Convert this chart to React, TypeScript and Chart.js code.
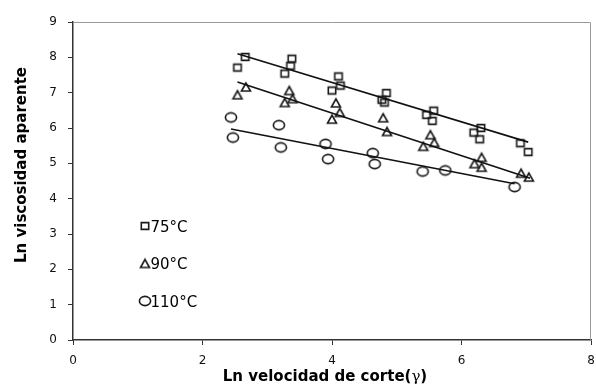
import React, { useEffect, useRef } from "react";
import { Chart, registerables } from "chart.js";

Chart.register(...registerables);

// ---- Data ----
const xTickValues = [0, 2, 4, 6, 8];
const yTickValues = [0, 1, 2, 3, 4, 5, 6, 7, 8, 9];
const xTitleMain = "Ln velocidad de corte(";
const xTitleSymbol = "γ";
const xTitleEnd = ")";
const yTitle = "Ln viscosidad aparente";
const seriesLabels = ["75°C", "90°C", "110°C"];

const x75 = [2.66, 2.54, 3.38, 3.36, 3.27, 4.10, 4.13, 4.00, 4.84, 4.77, 4.81, 5.57, 5.46, 5.55, 6.30, 6.19, 6.28, 6.91, 7.03];
const y75 = [8.01, 7.71, 7.96, 7.76, 7.54, 7.46, 7.20, 7.06, 6.99, 6.80, 6.72, 6.49, 6.37, 6.20, 6.00, 5.87, 5.68, 5.57, 5.32];

const x90 = [2.67, 2.54, 3.34, 3.39, 3.27, 4.06, 4.12, 4.00, 4.79, 4.85, 5.52, 5.58, 5.41, 6.31, 6.20, 6.31, 6.92, 7.04];
const y90 = [7.16, 6.94, 7.06, 6.83, 6.72, 6.71, 6.44, 6.25, 6.29, 5.90, 5.81, 5.59, 5.48, 5.17, 4.99, 4.89, 4.72, 4.61];

const x110 = [2.44, 2.47, 3.18, 3.21, 3.90, 3.94, 4.63, 4.66, 5.40, 5.75, 6.82];
const y110 = [6.30, 5.73, 6.08, 5.45, 5.55, 5.12, 5.29, 4.98, 4.77, 4.80, 4.33];

// trend line end points
const trend75X = [2.54, 7.03];
const trend75Y = [8.10, 5.60];
const trend90X = [2.54, 7.06];
const trend90Y = [7.30, 4.58];
const trend110X = [2.44, 6.82];
const trend110Y = [5.97, 4.42];

const toPoints = (xs: number[], ys: number[]) => xs.map((x, i) => ({ x, y: ys[i] }));

function makeMarker(kind: "square" | "triangle" | "circle"): HTMLCanvasElement {
  const c = document.createElement("canvas");
  c.width = 16;
  c.height = 16;
  const g = c.getContext("2d")!;
  g.strokeStyle = "#1a1a1a";
  g.lineWidth = 1.6;
  g.lineJoin = "miter";
  g.beginPath();
  if (kind === "square") {
    g.rect(8 - 3.7, 8 - 3.4, 7.4, 6.8);
  } else if (kind === "triangle") {
    g.moveTo(8, 4);
    g.lineTo(12.5, 12);
    g.lineTo(3.5, 12);
    g.closePath();
  } else {
    g.ellipse(8, 8, 5.6, 4.6, 0, 0, Math.PI * 2);
  }
  g.stroke();
  return c;
}

export default function App() {
  const ref = useRef<HTMLCanvasElement | null>(null);

  useEffect(() => {
    if (!ref.current) return;
    const mSquare = makeMarker("square");
    const mTri = makeMarker("triangle");
    const mCirc = makeMarker("circle");
    const markers = [mSquare, mTri, mCirc];

    const decor = {
      id: "decor",
      beforeDatasetsDraw(chart: any) {
        const { ctx, chartArea: a } = chart;
        ctx.save();
        ctx.strokeStyle = "#9a9a9a";
        ctx.lineWidth = 1;
        ctx.beginPath();
        ctx.moveTo(a.left, a.top + 0.5);
        ctx.lineTo(a.right - 0.5, a.top + 0.5);
        ctx.lineTo(a.right - 0.5, a.bottom);
        ctx.stroke();
        ctx.restore();
      },
      afterDraw(chart: any) {
        const { ctx, chartArea: a } = chart;
        ctx.save();
        ctx.fillStyle = "#000";
        // x title
        const bold = 'bold 15px "DejaVu Sans"';
        const reg = '15px "DejaVu Serif"';
        ctx.font = bold;
        const w1 = ctx.measureText(xTitleMain).width;
        const w3 = ctx.measureText(xTitleEnd).width;
        ctx.font = reg;
        const w2 = ctx.measureText(xTitleSymbol).width;
        const total = w1 + w2 + w3;
        const cx = a.left + 252;
        const by = 381;
        let x = cx - total / 2;
        ctx.textAlign = "left";
        ctx.textBaseline = "alphabetic";
        ctx.font = bold;
        ctx.fillText(xTitleMain, x, by);
        x += w1;
        ctx.font = reg;
        ctx.fillText(xTitleSymbol, x, by);
        x += w2;
        ctx.font = bold;
        ctx.fillText(xTitleEnd, x, by);
        // y title
        ctx.save();
        ctx.translate(26, 165);
        ctx.rotate(-Math.PI / 2);
        ctx.textAlign = "center";
        ctx.font = bold;
        ctx.fillText(yTitle, 0, 0);
        ctx.restore();
        // legend
        ctx.font = '15px "DejaVu Sans"';
        ctx.textAlign = "left";
        for (let i = 0; i < seriesLabels.length; i++) {
          const my = a.top + 204 + i * 37.5;
          const mx = a.left + 72;
          const m = markers[i];
          ctx.drawImage(m, mx - m.width / 2, my - m.height / 2);
          ctx.fillText(seriesLabels[i], mx + 5.5, my + 5.5);
        }
        ctx.restore();
      },
    };

    const lineStyle = {
      showLine: true,
      pointRadius: 0,
      borderColor: "#111",
      borderWidth: 1.6,
      fill: false,
    };

    const chart = new Chart(ref.current, {
      type: "scatter",
      data: {
        datasets: [
          { label: "t75", data: toPoints(trend75X, trend75Y), ...lineStyle },
          { label: "t90", data: toPoints(trend90X, trend90Y), ...lineStyle },
          { label: "t110", data: toPoints(trend110X, trend110Y), ...lineStyle },
          { label: seriesLabels[0], data: toPoints(x75, y75), pointStyle: mSquare as any, pointRadius: 4, showLine: false },
          { label: seriesLabels[1], data: toPoints(x90, y90), pointStyle: mTri as any, pointRadius: 4, showLine: false },
          { label: seriesLabels[2], data: toPoints(x110, y110), pointStyle: mCirc as any, pointRadius: 4, showLine: false },
        ],
      },
      options: {
        responsive: false,
        animation: false,
        events: [],
        layout: { padding: { top: 22, right: 1, left: 0, bottom: 0 } },
        plugins: {
          legend: { display: false },
          tooltip: { enabled: false },
          title: { display: false },
        },
        scales: {
          x: {
            type: "linear",
            min: 0,
            max: 8,
            afterBuildTicks: (s: any) => {
              s.ticks = xTickValues.map((v) => ({ value: v }));
            },
            afterFit: (s: any) => {
              s.height = 47;
              s.paddingLeft = 0;
              s.paddingRight = 0;
            },
            grid: { display: true, drawOnChartArea: false, drawTicks: true, tickLength: 5, color: "#333", lineWidth: 1 },
            border: { display: true, color: "#333", width: 1.5 },
            ticks: { font: { family: "DejaVu Sans", size: 12 }, color: "#111", padding: 9, maxRotation: 0, autoSkip: false },
          },
          y: {
            type: "linear",
            min: 0,
            max: 9,
            afterBuildTicks: (s: any) => {
              s.ticks = yTickValues.map((v) => ({ value: v }));
            },
            afterFit: (s: any) => {
              s.width = 73;
            },
            grid: { display: true, drawOnChartArea: false, drawTicks: true, tickLength: 5, color: "#333", lineWidth: 1 },
            border: { display: true, color: "#333", width: 1.5 },
            ticks: { font: { family: "DejaVu Sans", size: 12 }, color: "#111", padding: 11, autoSkip: false },
          },
        },
      },
      plugins: [decor],
    });
    return () => chart.destroy();
  }, []);

  return (
    <div style={{ position: "absolute", left: 0, top: 0, width: 596, height: 387, background: "#fff" }}>
      <canvas ref={ref} width={596} height={387} style={{ display: "block" }} />
    </div>
  );
}
